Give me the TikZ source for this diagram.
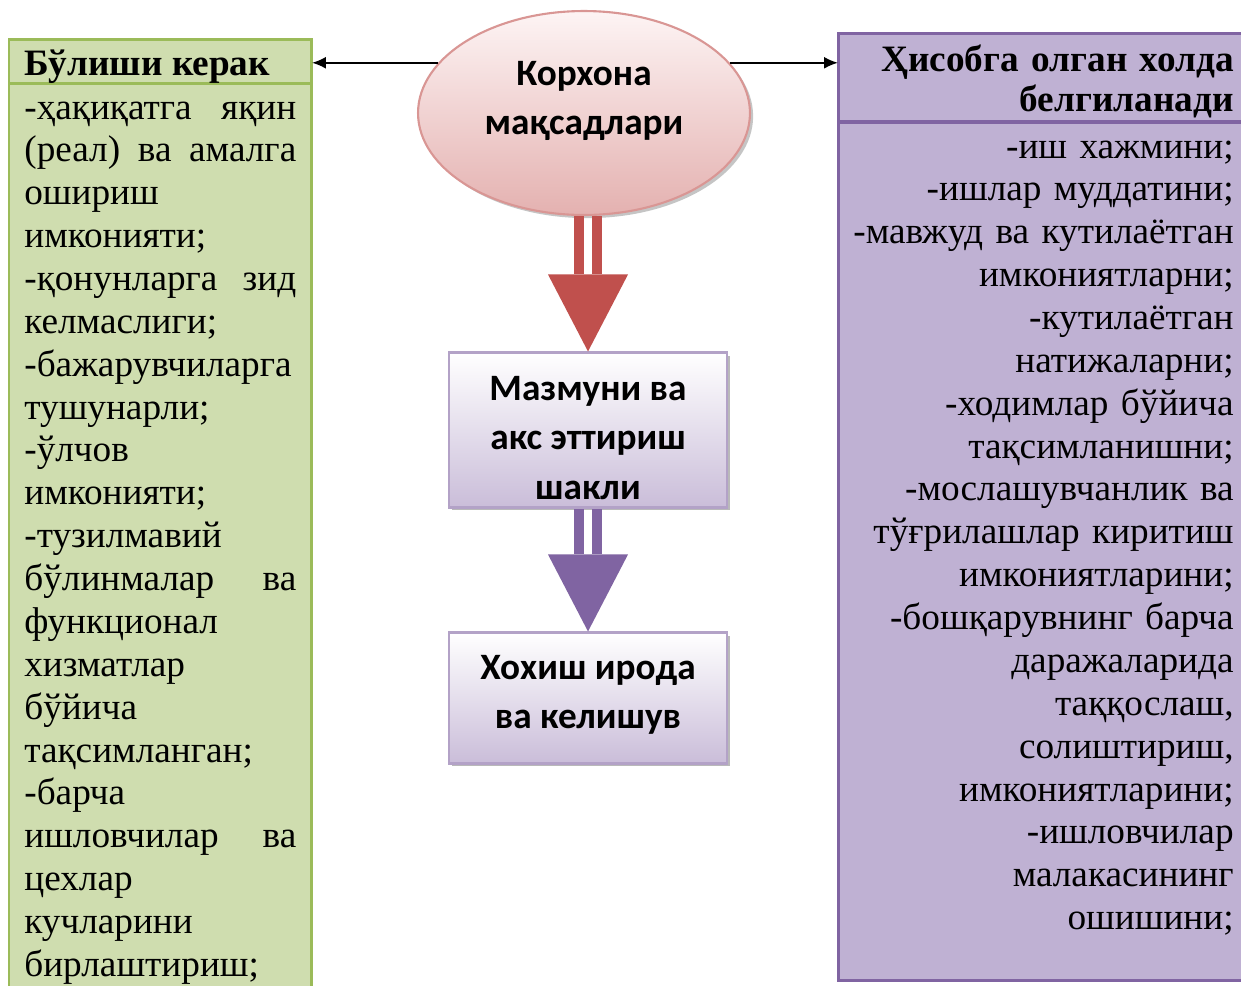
\documentclass[tikz,border=0pt]{standalone}
\usepackage{fontspec}
\setmainfont{Liberation Serif}
\newfontfamily\calibri{Carlito}
\usetikzlibrary{calc,shapes.geometric,shadows,arrows.meta}

\definecolor{needfill}{HTML}{CFDDAF}
\definecolor{needline}{HTML}{9BBB59}
\definecolor{calcfill}{HTML}{BFB1D3}
\definecolor{calcline}{HTML}{8064A2}
\definecolor{goaltop}{HTML}{FDF4F4}
\definecolor{goalbot}{HTML}{E4B1B0}
\definecolor{goalline}{HTML}{D99694}
\definecolor{aimline}{HTML}{B3A2C7}
\definecolor{aimbot}{HTML}{CABDD9}
\definecolor{redarrow}{HTML}{C0504D}

% double shaft block arrow: from #1 down to #2, colour #3
\newcommand*\dblarrow[3]{%
\fill[#3] ($(#1.south -| #2.north)+(-14,0)$) rectangle ($(#2.north)+(-4,-77)$);
\fill[#3] ($(#1.south -| #2.north)+(4,0)$) rectangle ($(#2.north)+(14,-77)$);
\fill[#3] ($(#2.north)+(-40,-77)$) -- ($(#2.north)+(40,-77)$) -- (#2.north) -- cycle;}

\begin{document}
\begin{tikzpicture}[x=0.02cm,y=-0.02cm,>={Latex[length=0.28cm,width=0.24cm]},
  frame/.style={anchor=north west,inner sep=0,outer sep=0,line width=1.7pt},
  needbox/.style={frame,draw=needline,fill=needfill,minimum width=6.06cm},
  calcbox/.style={frame,draw=calcline,fill=calcfill,minimum width=8.44cm},
  txt/.style={inner sep=0,font=\fontsize{21.2}{24.4}\selectfont},
  midtxt/.style={inner sep=0,align=center,font=\calibri\bfseries\fontsize{21.2}{28}\selectfont},
  goal/.style={ellipse,draw=goalline,line width=1.2pt,top color=goaltop,bottom color=goalbot,
    minimum width=6.64cm,minimum height=4.08cm,inner sep=0,
    drop shadow={shadow xshift=1.8pt,shadow yshift=-1.8pt,fill=black!45}},
  aim/.style={rectangle,draw=aimline,line width=1.2pt,top color=white,bottom color=aimbot,
    minimum width=5.56cm,inner sep=0,
    drop shadow={shadow xshift=1.7pt,shadow yshift=-1.7pt,fill=black!55,opacity=0.5}}]
\useasboundingbox (0,0) rectangle (1241,985);
\clip (0,0) rectangle (1241,985);

%left box
\node[needbox,minimum height=18.4cm] (needbody) at (9,83) {};
\node[needbox,minimum height=0.88cm] (needhead) at (9,39) {};
\node[txt,anchor=base west,font=\bfseries\fontsize{21.2}{24.4}\selectfont] (needtitle) at (24,75) {Бўлиши керак};
\node[txt,anchor=base west,text width=5.44cm,align=left] (needtext) at (24,119) {%
-ҳақиқатга\hfill яқин\\
(реал)\hfill ва\hfill амалга\\
ошириш\\
имконияти;\\
-қонунларга\hfill зид\\
келмаслиги;\\
-бажарувчиларга\\
тушунарли;\\
-ўлчов\\
имконияти;\\
-тузилмавий\\
бўлинмалар\hfill ва\\
функционал\\
хизматлар\\
бўйича\\
тақсимланган;\\
-барча\\
ишловчилар\hfill ва\\
цехлар\\
кучларини\\
бирлаштириш;};

%right box
\node[calcbox,minimum height=17.18cm] (calcbody) at (838,122) {};
\node[calcbox,minimum height=1.78cm] (calchead) at (838,33) {};
\node[txt,anchor=base east,text width=8cm,align=right,font=\bfseries\fontsize{21.2}{23.2}\selectfont] (calctitle) at (1234,71) {%
Ҳисобга олган холда\\
белгиланади};
\node[txt,anchor=base east,text width=8cm,align=right] (calctext) at (1234,158) {%
-иш хажмини;\\
-ишлар муддатини;\\
-мавжуд ва кутилаётган\\
имкониятларни;\\
-кутилаётган\\
натижаларни;\\
-ходимлар бўйича\\
тақсимланишни;\\
-мослашувчанлик ва\\
тўғрилашлар киритиш\\
имкониятларини;\\
-бошқарувнинг барча\\
даражаларида\\
таққослаш,\\
солиштириш,\\
имкониятларини;\\
-ишловчилар\\
малакасининг\\
ошишини;};

%middle column
\node[goal] (goal) at (584,113) {};
\node[aim,minimum height=3.1cm] (form) at (588,430) {};
\node[aim,minimum height=2.62cm] (will) at (588,698) {};
\node[midtxt] (goaltxt) at ($(goal.center)+(0,-12)$) {Корхона\\мақсадлари};
\node[midtxt] (formtxt) at ($(form.center)+(0,8)$) {Мазмуни ва\\акс эттириш\\шакли};
\node[midtxt] (willtxt) at ($(will.center)+(0,-3)$) {Хохиш ирода\\ва келишув};

\dblarrow{goal}{form}{redarrow}
\dblarrow{form}{will}{calcline}

\draw[->,line width=1.1pt] (goal.161) -- (goal.161 -| needhead.east);
\draw[->,line width=1.1pt] (goal.19) -- (goal.19 -| calchead.west);

\end{tikzpicture}
\end{document}
